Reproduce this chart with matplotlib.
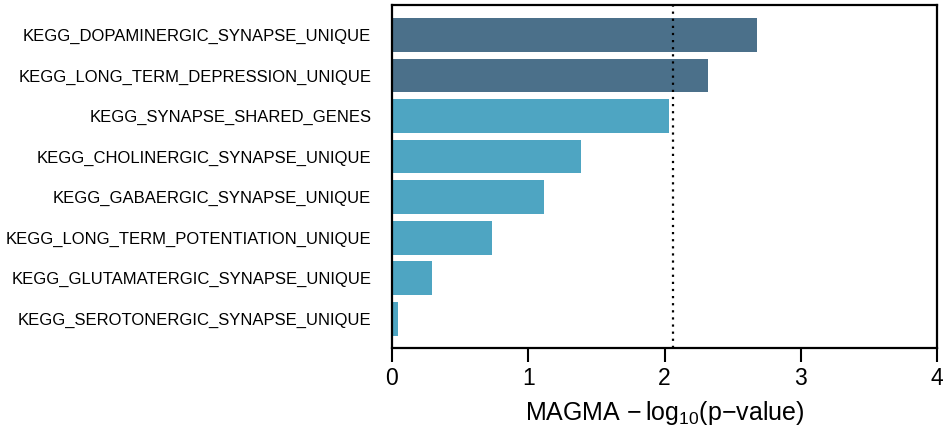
import matplotlib
matplotlib.use("Agg")
import matplotlib.pyplot as plt

categories = [
    "KEGG_DOPAMINERGIC_SYNAPSE_UNIQUE",
    "KEGG_LONG_TERM_DEPRESSION_UNIQUE",
    "KEGG_SYNAPSE_SHARED_GENES",
    "KEGG_CHOLINERGIC_SYNAPSE_UNIQUE",
    "KEGG_GABAERGIC_SYNAPSE_UNIQUE",
    "KEGG_LONG_TERM_POTENTIATION_UNIQUE",
    "KEGG_GLUTAMATERGIC_SYNAPSE_UNIQUE",
    "KEGG_SEROTONERGIC_SYNAPSE_UNIQUE",
]
values = [2.68, 2.32, 2.03, 1.385, 1.113, 0.731, 0.291, 0.042]
significant = [True, True, False, False, False, False, False, False]
threshold = 2.06
xticks = [0, 1, 2, 3, 4]

plt.rcParams['font.family'] = ['Liberation Sans', 'DejaVu Sans']
plt.rcParams['mathtext.default'] = 'regular'

fig = plt.figure(figsize=(9.46, 4.29), dpi=100)
ax = fig.add_axes([392/946, 1-348/429, (937-392)/946, (348-5)/429])

colors = ["#4B708A" if s else "#4EA5C2" for s in significant]
pos = list(range(len(categories)))
ax.barh(pos, values, height=0.83, color=colors, edgecolor='none')
ax.axvline(threshold, color='black', linestyle=(0, (1, 2.2)), linewidth=1.6)

ax.set_xlim(0, 4)
ax.set_ylim(7.72, -0.74)
ax.set_yticks(pos)
ax.set_yticklabels(categories, fontsize=12)
ax.tick_params(axis='y', length=0, pad=15)
ax.set_xticks(xticks)
ax.set_xticklabels([str(t) for t in xticks], fontsize=16.5)
ax.tick_params(axis='x', length=10, width=1.5, pad=4)
ax.set_xlabel(r'MAGMA $\mathregular{-\,log_{10}(p{-}value)}$', fontsize=18, labelpad=6)
for s in ax.spines.values():
    s.set_linewidth(1.6)
    s.set_color('black')

fig.savefig("out.png", dpi=100)
